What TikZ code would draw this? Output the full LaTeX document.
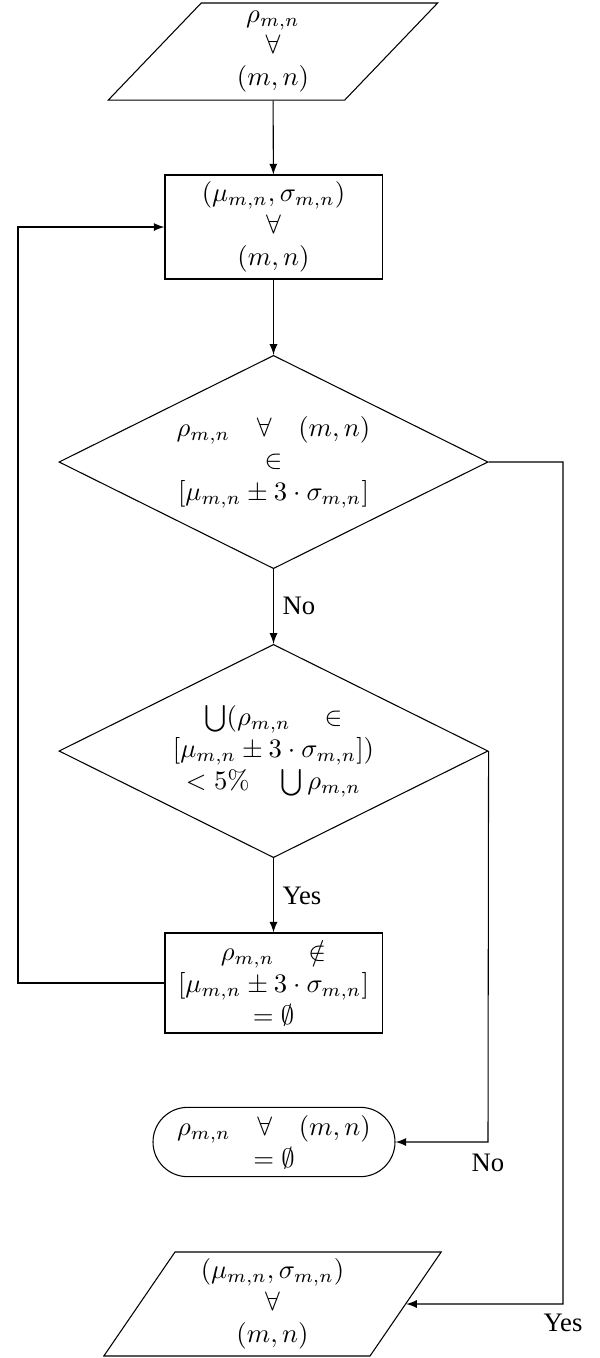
\documentclass[tikz,border=0pt]{standalone}
\usepackage{fontspec}
\newfontfamily\labfont{Liberation Serif}
\usetikzlibrary{shapes.geometric,arrows}
\begin{document}
\begin{tikzpicture}[x=0.375pt,y=-0.375pt,
  iobox/.style={trapezium, trapezium left angle=60, trapezium right angle=120,
    trapezium stretches=true, draw, align=center, inner sep=0pt},
  procbox/.style={rectangle, draw, align=center, minimum width=81.4pt, inner sep=0pt},
  decbox/.style={diamond, draw, aspect=2, align=center, inner sep=0pt,
    minimum width=160.9pt, minimum height=80pt},
  termbox/.style={rectangle, rounded corners=13pt, draw, align=center,
    minimum width=90.75pt, minimum height=26pt, inner sep=0pt},
  arr/.style={-latex},
  lab/.style={font=\labfont, inner sep=0pt}]
\useasboundingbox (0,0) rectangle (600,1358);

\node[iobox, minimum width=123.75pt, minimum height=36.4pt] (tpara) at (273,51.5)
  {$\rho_{m,n}$\\[-0.5pt] $\forall$\\ $(m,n)$};
\node[procbox, minimum height=39pt] (rect1) at (273.5,227)
  {$(\mu_{m,n},\sigma_{m,n})$\\ $\forall$\\ $(m,n)$};
\node[decbox] (d1) at (273.5,462)
  {$\rho_{m,n}\quad\forall\quad(m,n)$\\ $\in$\\ $[\mu_{m,n}\pm 3\cdot\sigma_{m,n}]$};
\node[decbox] (d2) at (273.5,751)
  {$\bigcup(\rho_{m,n}\quad\in$\\ $[\mu_{m,n}\pm 3\cdot\sigma_{m,n}])$\\ $<5\%\quad\bigcup\rho_{m,n}$};
\node[procbox, minimum height=37.5pt] (rect2) at (273.5,983)
  {$\rho_{m,n}\quad\notin$\\ $[\mu_{m,n}\pm 3\cdot\sigma_{m,n}]$\\ $=\emptyset$};
\node[termbox] (term) at (274,1142)
  {$\rho_{m,n}\quad\forall\quad(m,n)$\\ $=\emptyset$};
\node[iobox, minimum width=127.1pt, minimum height=39pt] (bpara) at (272.5,1304)
  {$(\mu_{m,n},\sigma_{m,n})$\\ $\forall$\\ $(m,n)$};

\node[lab, anchor=west] (no1) at (282,606) {No};
\node[lab, anchor=west] (yes1) at (282,896) {Yes};
\node[lab] (no2) at (488,1163) {No};
\node[lab] (yes2) at (563,1323) {Yes};

\coordinate (cl) at (18,227);
\coordinate (cy) at (563,1304);
\coordinate (cn) at (488,1142);

\draw[arr] (tpara) -- (rect1);
\draw[arr] (rect1) -- (d1);
\draw[arr] (d1) -- (d2);
\draw[arr] (d2) -- (rect2);
\draw[arr] (rect2.west) -| (cl) -- (rect1.west);
\draw[arr] (d1.east) -| (cy) -- (bpara);
\draw[arr] (d2.east) -- (cn) -- (term);
\end{tikzpicture}
\end{document}
